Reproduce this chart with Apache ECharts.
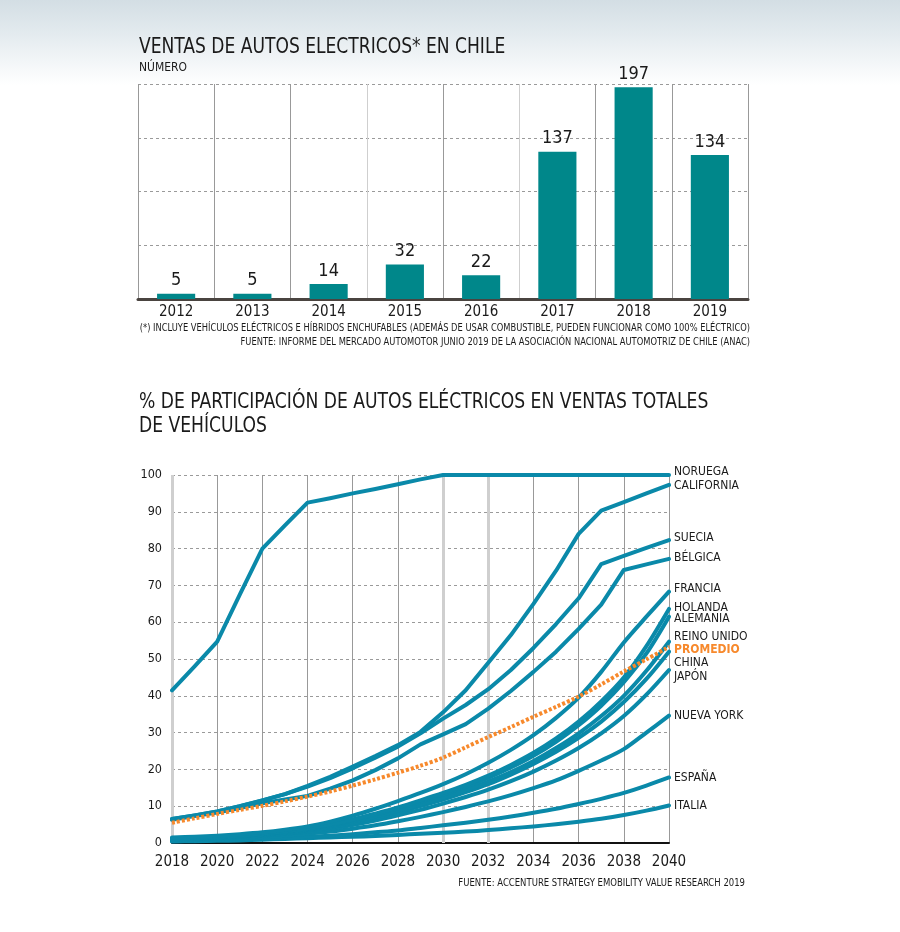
<!DOCTYPE html>
<html><head><meta charset="utf-8">
<script src="https://cdn.jsdelivr.net/npm/echarts@6/dist/echarts.min.js"></script>
<style>
html,body{margin:0;padding:0;}
body{width:900px;height:932px;background:linear-gradient(to bottom,#d3dee4 0px,#e4ebef 35px,#ffffff 85px);}
#c{width:900px;height:932px;}
</style>
</head><body><div id="c"></div>
<script>
const NARROW = '"Liberation Sans Narrow","DejaVu Sans Condensed","Roboto Condensed",sans-serif';

// ---- Chart 1: ventas de autos eléctricos en Chile ----
const barYears = ['2012','2013','2014','2015','2016','2017','2018','2019'];
const barValues = [5, 5, 14, 32, 22, 137, 197, 134];

// ---- Chart 2: % participación ----
const lineYears = [2018,2019,2020,2021,2022,2023,2024,2025,2026,2027,2028,2029,2030,2031,2032,2033,2034,2035,2036,2037,2038,2039,2040];
const noruega    = [41.5,48,54.7,67.5,80,86.3,92.5,93.7,95,96.2,97.5,98.8,100,100,100,100,100,100,100,100,100,100,100];
const california = [6.5,7.5,8.6,10,11.6,13.3,15.5,18,20.8,23.6,26.6,30.2,35.5,41.5,49,56.5,65,74,84,90.3,92.6,95,97.3];
const suecia     = [6.5,7.5,8.6,10,11.6,13.3,15.3,17.6,20.3,23.2,26.2,29.8,33.8,37.5,41.8,47,53,59.5,66.5,75.8,78,80.2,82.3];
const belgica    = [6.3,7.3,8.3,9.5,10.8,11.8,12.8,14.8,17,19.8,23,26.8,29.5,32.3,36.5,41.3,46.5,52,58.2,64.8,74.2,75.7,77.2];
const francia    = [1.5,1.7,2,2.4,2.9,3.6,4.5,5.8,7.4,9.3,11.4,13.6,16,18.7,21.8,25.3,29.3,34,39.5,46.5,54.5,61.5,68.3];
const holanda    = [1.2,1.4,1.7,2.1,2.6,3.2,4,5.1,6.4,8,9.7,11.6,13.6,15.8,18.3,21.2,24.5,28.4,33,38.5,45,53.5,63.6];
const alemania   = [1.1,1.3,1.6,2,2.5,3.1,3.8,4.9,6.2,7.7,9.4,11.2,13.2,15.3,17.7,20.5,23.7,27.5,32,37.3,43.7,51.5,61.5];
const reinoUnido = [1,1.2,1.5,1.9,2.4,2.9,3.6,4.6,5.8,7.2,8.8,10.5,12.4,14.4,16.7,19.3,22.3,25.8,29.8,34.5,40,46.8,54.7];
const china      = [0.9,1.1,1.4,1.8,2.2,2.7,3.4,4.3,5.4,6.8,8.3,10,11.8,13.8,16,18.6,21.5,24.8,28.6,33,38.3,44.6,52];
const japon      = [0.8,1,1.3,1.6,2,2.5,3.1,3.9,4.9,6.1,7.5,9,10.7,12.5,14.5,16.8,19.4,22.4,25.8,29.8,34.5,40.3,47];
const nuevaYork  = [0.6,0.8,1,1.3,1.6,2,2.5,3.1,3.9,4.8,5.9,7.1,8.4,9.8,11.3,13,14.9,17,19.6,22.4,25.5,30,34.6];
const espana     = [0.5,0.6,0.8,1,1.2,1.4,1.7,2,2.4,2.9,3.4,4.1,4.8,5.5,6.3,7.2,8.2,9.3,10.6,12,13.6,15.6,17.8];
const italia     = [0.4,0.5,0.6,0.7,0.9,1.1,1.3,1.5,1.7,1.9,2.2,2.5,2.8,3.1,3.5,4,4.5,5.1,5.8,6.6,7.6,8.8,10.2];
const promedio   = [5.5,6.7,7.9,9,10.1,11.3,12.6,14,15.6,17.3,19.1,21,23.2,26,28.8,31.5,34.3,37,39.8,43.1,46.6,49.9,53.3];

const tealNames = ['ITALIA','ESPAÑA','NUEVA YORK','JAPÓN','CHINA','REINO UNIDO','ALEMANIA','HOLANDA','FRANCIA','BÉLGICA','SUECIA','CALIFORNIA','NORUEGA'];
const tealData  = [italia, espana, nuevaYork, japon, china, reinoUnido, alemania, holanda, francia, belgica, suecia, california, noruega];
// label vertical nudges (px) to keep end labels apart
const labelDy = {'NORUEGA':-3,'CALIFORNIA':1,'SUECIA':-2,'BÉLGICA':-1,'FRANCIA':-3,'HOLANDA':-1,'ALEMANIA':2,'REINO UNIDO':-5,'PROMEDIO':3,'CHINA':11,'JAPÓN':7,'NUEVA YORK':0,'ESPAÑA':0,'ITALIA':0};
const sharp = {'NORUEGA':true,'CALIFORNIA':true,'SUECIA':true,'BÉLGICA':true};

const TEAL = '#0a89a9';
const ORANGE = '#f7892c';

function pairs(vals){ return lineYears.map((y,i)=>[y, vals[i]]); }

const series = [];
series.push({
  type:'bar', xAxisIndex:0, yAxisIndex:0, data: barValues, barWidth:'50%',
  itemStyle:{color:'#00878a'},
  label:{show:true, position:'top', distance:4, color:'#1a1a1a', fontSize:18, fontFamily:NARROW},
  silent:true
});
tealNames.forEach((n,i)=>{
  const s = {
    type:'line', name:n, xAxisIndex:1, yAxisIndex:1, data: pairs(tealData[i]),
    showSymbol:false, symbol:'none', smooth: sharp[n] ? false : 0.3,
    lineStyle:{color:TEAL, width:4, cap:'round', join:'round'},
    endLabel:{show:true, formatter:n, offset:[0,labelDy[n]], color:'#1a1a1a', fontSize:12, fontFamily:NARROW, distance:5},
    silent:true, z:3
  };
  if(i===0){
    s.markLine = {silent:true, symbol:'none', z:1, label:{show:false},
      lineStyle:{color:'#cfcfcf', width:3, type:'solid'},
      data:[{xAxis:2018},{xAxis:2030},{xAxis:2032}]};
  }
  series.push(s);
});
series.push({
  type:'line', name:'PROMEDIO', xAxisIndex:1, yAxisIndex:1, data: pairs(promedio),
  showSymbol:false, symbol:'none', smooth:0.3,
  lineStyle:{color:ORANGE, width:4, type:[3,2], cap:'butt'},
  endLabel:{show:true, formatter:'PROMEDIO', offset:[0,labelDy['PROMEDIO']], color:ORANGE, fontWeight:'bold', fontSize:12, fontFamily:NARROW, distance:5},
  silent:true, z:4
});

const topSplitColors = ['#999','#999','#999','#cfcfcf','#999','#cfcfcf','#999','#999','#999'];
const botSplitColors = ['#cfcfcf','#999','#999','#999','#999','#999','#cfcfcf','#cfcfcf','#999','#999','#999','#999'];

function txt(text, x, y, size, scaleX, align, extra){
  return {type:'text', x:x, y:y, scaleX:scaleX, originX:0, originY:0,
    style:Object.assign({text:text, x:0, y:0, fill:'#1a1a1a', font:size+'px '+NARROW, textAlign:align, textVerticalAlign:'middle'}, extra||{})};
}

const option = {
  animation:false,
  grid:[
    {left:138, right:152, top:84, bottom:633, containLabel:false},
    {left:172, right:231, top:475, bottom:89, containLabel:false}
  ],
  xAxis:[
    {type:'category', gridIndex:0, data:barYears,
     axisLine:{show:true, lineStyle:{color:'#4a4440', width:3}},
     axisTick:{show:false},
     axisLabel:{color:'#1a1a1a', fontSize:15, fontFamily:NARROW, margin:6},
     splitLine:{show:true, lineStyle:{color:topSplitColors, width:1}}},
    {type:'value', gridIndex:1, min:2018, max:2040, interval:2,
     axisLine:{show:true, lineStyle:{color:'#111', width:2}},
     axisTick:{show:false},
     axisLabel:{color:'#1a1a1a', fontSize:15, fontFamily:NARROW, margin:12, formatter:v=>String(v)},
     splitLine:{show:true, lineStyle:{color:botSplitColors, width:1}}}
  ],
  yAxis:[
    {type:'value', gridIndex:0, min:0, max:200, interval:50,
     axisLine:{show:false}, axisTick:{show:false}, axisLabel:{show:false},
     splitLine:{show:true, lineStyle:{color:'#9a9a9a', type:[3,3], width:1}}},
    {type:'value', gridIndex:1, min:0, max:100, interval:10,
     axisLine:{show:false}, axisTick:{show:false},
     axisLabel:{color:'#1a1a1a', fontSize:12.5, fontFamily:NARROW, margin:10},
     splitLine:{show:true, lineStyle:{color:'#9a9a9a', type:[3,3], width:1}}}
  ],
  graphic:[
    txt('VENTAS DE AUTOS ELECTRICOS* EN CHILE', 139, 48, 21, 0.906, 'left'),
    txt('NÚMERO', 139, 68, 13, 0.92, 'left'),
    txt('(*) INCLUYE VEHÍCULOS ELÉCTRICOS E HÍBRIDOS ENCHUFABLES (ADEMÁS DE USAR COMBUSTIBLE, PUEDEN FUNCIONAR COMO 100% ELÉCTRICO)', 750, 328, 10, 0.924, 'right'),
    txt('FUENTE: INFORME DEL MERCADO AUTOMOTOR JUNIO 2019 DE LA ASOCIACIÓN NACIONAL AUTOMOTRIZ DE CHILE (ANAC)', 750, 342, 10, 0.927, 'right'),
    txt('% DE PARTICIPACIÓN DE AUTOS ELÉCTRICOS EN VENTAS TOTALES', 139, 403, 21, 0.909, 'left'),
    txt('DE VEHÍCULOS', 139, 427, 21, 0.909, 'left'),
    txt('FUENTE: ACCENTURE STRATEGY EMOBILITY VALUE RESEARCH 2019', 745, 883, 10, 0.944, 'right')
  ],
  series: series
};

const chart = echarts.init(document.getElementById('c'), null, {renderer:'canvas'});
chart.setOption(option);
</script>
</body></html>
